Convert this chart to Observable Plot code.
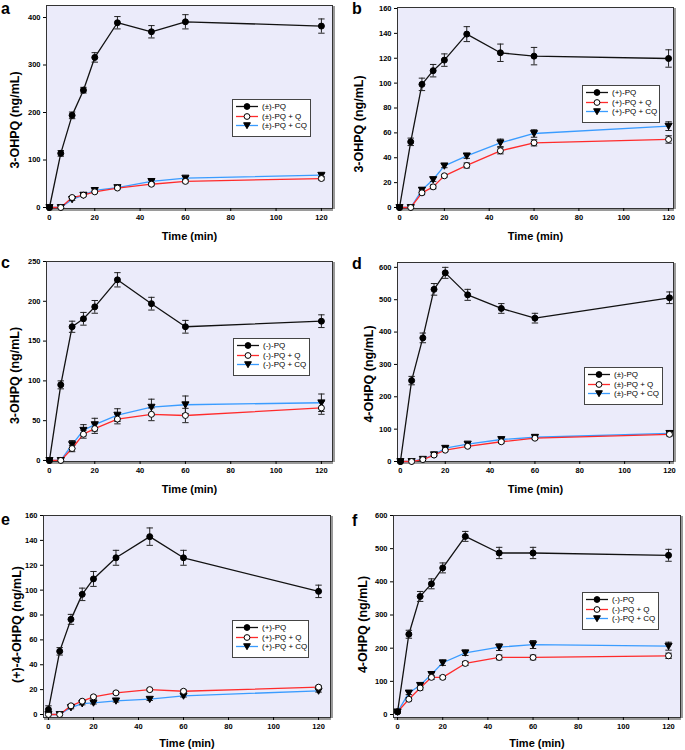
<!DOCTYPE html>
<html><head><meta charset="utf-8">
<script src="https://cdn.jsdelivr.net/npm/d3@7"></script>
<script src="https://cdn.jsdelivr.net/npm/@observablehq/plot@0.6"></script>
<style>
body{margin:0;background:#fff;font-family:"Liberation Sans",Arial,sans-serif;}
#fig{position:relative;width:685px;height:750px;overflow:hidden;background:#fff;}
.panel{position:absolute;}
.letter{position:absolute;font-weight:bold;font-size:16px;line-height:16px;color:#000;}
.legend{position:absolute;background:#fff;border:1px solid #444;box-sizing:border-box;padding:2px 0 0 3px;}
.legend .row{display:flex;align-items:center;height:9.6px;font-size:8px;color:#000;white-space:nowrap;}
.legend svg{margin-right:4px;}
</style></head>
<body><div id="fig"></div>
<script>
// ---------- data ----------
const times = [0, 5, 10, 15, 20, 30, 45, 60, 120];
const xTicks = [0, 20, 40, 60, 80, 100, 120];
const xLabel = "Time (min)";

// panel a : 3-OHPQ, (±)-PQ
const aNames = ["(±)-PQ", "(±)-PQ + Q", "(±)-PQ + CQ"];
const aPQ   = [0, 114, 194, 247, 316, 389, 370, 391, 382];
const aPQe  = [0, 6, 7, 6, 10, 13, 13, 15, 15];
const aQ    = [0, 0, 21, 26, 33, 41, 49, 55, 61];
const aQe   = [0, 0, 2, 2, 2, 2, 3, 3, 3];
const aCQ   = [0, 0, 17, 26, 36, 42, 55, 62, 68];
const aCQe  = [0, 0, 2, 2, 3, 2, 3, 3, 3];
const aYTicks = [0, 100, 200, 300, 400];

// panel b : 3-OHPQ, (+)-PQ
const bNames = ["(+)-PQ", "(+)-PQ + Q", "(+)-PQ + CQ"];
const bPQ   = [0, 52.8, 99, 110, 118.5, 139.4, 124.4, 121.7, 119.8];
const bPQe  = [0, 3, 5, 5, 5, 6, 7, 7, 7];
const bQ    = [0, 0, 11.8, 16.6, 25.5, 33.8, 45.6, 52, 54.7];
const bQe   = [0, 0, 1.5, 1.5, 1, 2, 2.5, 2.5, 3];
const bCQ   = [0, 0, 14, 22.5, 33.5, 41.5, 52, 59.5, 65.4];
const bCQe  = [0, 0, 2, 1.5, 1.5, 2, 3, 3, 3.5];
const bYTicks = [0, 20, 40, 60, 80, 100, 120, 140, 160];

// panel c : 3-OHPQ, (-)-PQ
const cNames = ["(-)-PQ", "(-)-PQ + Q", "(-)-PQ + CQ"];
const cPQ   = [0, 95, 168, 178, 193, 227, 197, 168, 175];
const cPQe  = [0, 5, 7, 8, 8, 9, 8, 8, 8];
const cQ    = [0, 0, 15, 33, 40, 52, 58, 56.5, 66];
const cQe   = [0, 0, 4, 5, 6, 6, 8, 9, 8];
const cCQ   = [0, 0, 20, 38, 45, 57, 67, 70, 72.5];
const cCQe  = [0, 0, 5, 7, 8, 8, 10, 11, 11];
const cYTicks = [0, 50, 100, 150, 200, 250];

// panel d : 4-OHPQ, (±)-PQ
const dNames = ["(±)-PQ", "(±)-PQ + Q", "(±)-PQ + CQ"];
const dPQ   = [0, 250, 382, 532, 583, 515, 473, 443, 506];
const dPQe  = [0, 13, 15, 18, 17, 17, 15, 15, 18];
const dQ    = [0, 0, 6, 20, 35, 47, 61, 72, 84];
const dQe   = [0, 0, 2, 3, 3, 3, 4, 4, 5];
const dCQ   = [0, 0, 7, 21, 41, 54, 68, 75, 87];
const dCQe  = [0, 0, 2, 3, 4, 4, 5, 5, 5];
const dYTicks = [0, 100, 200, 300, 400, 500, 600];

// panel e : (+)-4-OHPQ, (+)-PQ
const eNames = ["(+)-PQ", "(+)-PQ + Q", "(+)-PQ + CQ"];
const ePQ   = [4, 50.8, 76.5, 96.6, 109, 126, 143, 126, 99];
const ePQe  = [3, 3, 4, 5, 6, 6, 7, 6, 5];
const eQ    = [0, 0, 7, 10.7, 14.2, 17.4, 20, 18.7, 22];
const eQe   = [0, 0, 1, 1, 1, 1, 1, 1, 1];
const eCQ   = [0, 0, 5.6, 8.8, 9.4, 11, 12.3, 15, 19];
const eCQe  = [0, 0, 1, 1, 1, 1, 1, 1, 1];
const eYTicks = [0, 20, 40, 60, 80, 100, 120, 140, 160];

// panel f : 4-OHPQ, (-)-PQ
const fNames = ["(-)-PQ", "(-)-PQ + Q", "(-)-PQ + CQ"];
const fPQ   = [8, 242, 356, 394, 442, 537, 487, 487, 480];
const fPQe  = [3, 12, 15, 15, 15, 15, 17, 17, 18];
const fQ    = [8, 46, 80, 112, 112, 154, 172, 172, 177];
const fQe   = [2, 5, 6, 6, 5, 6, 7, 7, 8];
const fCQ   = [8, 65, 88, 121, 156, 186, 203, 211, 206];
const fCQe  = [2, 5, 6, 8, 8, 8, 10, 12, 12];
const fYTicks = [0, 100, 200, 300, 400, 500, 600];

const seriesColors = ["#111111", "#ff2b2b", "#3a9cff"];
const plotBg = "#ebebfa";

// ---------- layout (styles only) ----------
const panels = [
  {letter:"a", yLabel:"3-OHPQ (ng/mL)", names:aNames, vals:[aPQ,aQ,aCQ], errs:[aPQe,aQe,aCQe], yTicks:aYTicks,
   left:0, top:0, w:340, h:250, m:[5,8,42,46], xd:[-1.3,124.9], yd:[-2.1,425.3],
   letterPos:[1,1], legend:[232,99,79,38], ylDx:-32, ylDy:13, xlDy:28},
  {letter:"b", yLabel:"3-OHPQ (ng/mL)", names:bNames, vals:[bPQ,bQ,bCQ], errs:[bPQe,bQe,bCQe], yTicks:bYTicks,
   left:340, top:0, w:345, h:250, m:[7,12,42,57], xd:[-0.9,122.2], yd:[-0.8,160.8],
   letterPos:[352,1], legend:[582,85,78,38], ylDx:-39, ylDy:16, xlDy:28},
  {letter:"c", yLabel:"3-OHPQ (ng/mL)", names:cNames, vals:[cPQ,cQ,cCQ], errs:[cPQe,cQe,cCQe], yTicks:cYTicks,
   left:0, top:250, w:340, h:250, m:[11,8,39,46], xd:[-1.3,124.9], yd:[-1.3,250],
   letterPos:[1,255], legend:[233,338,77,38], ylDx:-32, ylDy:14, xlDy:28},
  {letter:"d", yLabel:"4-OHPQ (ng/mL)", names:dNames, vals:[dPQ,dQ,dCQ], errs:[dPQe,dQe,dCQe], yTicks:dYTicks,
   left:340, top:250, w:345, h:250, m:[12,12,39,57], xd:[-1.3,121.8], yd:[0,615],
   letterPos:[352,256], legend:[584,367,79,38], ylDx:-29, ylDy:12, xlDy:28},
  {letter:"e", yLabel:"(+)-4-OHPQ (ng/mL)", names:eNames, vals:[ePQ,eQ,eCQ], errs:[ePQe,eQe,eCQe], yTicks:eYTicks,
   left:0, top:500, w:340, h:250, m:[15,10,33,43], xd:[-2.2,125.3], yd:[-2.4,160],
   letterPos:[1,512], legend:[232,620,77,38], ylDx:-27, ylDy:8, xlDy:26},
  {letter:"f", yLabel:"4-OHPQ (ng/mL)", names:fNames, vals:[fPQ,fQ,fCQ], errs:[fPQe,fQe,fCQe], yTicks:fYTicks,
   left:340, top:500, w:345, h:250, m:[15,5,33,53], xd:[-1.8,125.3], yd:[-9,600],
   letterPos:[352,513], legend:[582,592,77,38], ylDx:-31, ylDy:8, xlDy:26}
];

// custom symbols
const capSymbol = {draw(ctx, size){ const w = Math.sqrt(size/Math.PI); ctx.moveTo(-w,0); ctx.lineTo(w,0); }};
const triDown = {draw(ctx, size){ const w = Math.sqrt(size/Math.PI); ctx.moveTo(-w*1.05,-w*0.85); ctx.lineTo(w*1.05,-w*0.85); ctx.lineTo(0,w*1.0); ctx.closePath(); }};
const symbols = [
  {symbol:"circle", fill:"#000", stroke:"#000"},
  {symbol:"circle", fill:"#fff", stroke:"#000"},
  {symbol:triDown, fill:"#000", stroke:"#000"}
];

const fig = document.getElementById("fig");

for (const p of panels) {
  const rows = [];
  p.names.forEach((s, si) => times.forEach((t, i) => rows.push({t, v:p.vals[si][i], e:p.errs[si][i], s, si})));
  const errRows = rows.filter(d => d.e > 0);

  const marks = [
    Plot.frame({fill: plotBg, stroke: "none"}),
    Plot.ruleY([p.yd[0]], {stroke:"#9a9a9a", strokeWidth:2, dy:1.5, dx:1}),
    Plot.ruleX([p.xd[1]], {stroke:"#9a9a9a", strokeWidth:2, dx:1.5, dy:1}),
    Plot.frame({stroke:"#333", strokeWidth:1}),
    Plot.axisX({ticks: xTicks, tickSize:3, tickPadding:3, label:null, fontSize:7.5, fontWeight:"bold"}),
    Plot.axisY({ticks: p.yTicks, tickSize:3, tickPadding:3, label:null, fontSize:7.5, fontWeight:"bold"}),
    // lines: blue and red under black
    ...[2,1,0].map(si => Plot.line(rows.filter(d => d.si === si), {x:"t", y:"v", stroke: seriesColors[si], strokeWidth:1.3})),
    // error bars
    Plot.ruleX(errRows, {x:"t", y1: d => d.v - d.e, y2: d => d.v + d.e, stroke:"#222", strokeWidth:1}),
    Plot.dot(errRows, {x:"t", y: d => d.v + d.e, symbol: capSymbol, r:3.2, stroke:"#222", strokeWidth:1}),
    Plot.dot(errRows, {x:"t", y: d => d.v - d.e, symbol: capSymbol, r:3.2, stroke:"#222", strokeWidth:1}),
    // markers
    ...[2,1,0].map(si => Plot.dot(rows.filter(d => d.si === si), {x:"t", y:"v", symbol: symbols[si].symbol, fill: symbols[si].fill, stroke: symbols[si].stroke, r: si === 2 ? 3.4 : 3, strokeWidth:1})),
    // axis titles
    Plot.text([p.yLabel], {text: d => d, frameAnchor:"left", textAnchor:"middle", lineAnchor:"middle", rotate:-90, dx:p.ylDx, dy:p.ylDy, fontSize:12.5, fontWeight:"bold", fill:"#000"}),
    Plot.text([xLabel], {text: d => d, frameAnchor:"bottom", textAnchor:"middle", lineAnchor:"middle", dy:p.xlDy, fontSize:11, fontWeight:"bold", fill:"#000"})
  ];

  const svg = Plot.plot({
    width: p.w, height: p.h,
    marginTop: p.m[0], marginRight: p.m[1], marginBottom: p.m[2], marginLeft: p.m[3],
    x: {domain: p.xd, axis: null},
    y: {domain: p.yd, axis: null},
    style: {fontFamily: "'Liberation Sans', Arial, sans-serif", background: "transparent", overflow: "visible", color:"#000"},
    marks
  });
  const wrap = document.createElement("div");
  wrap.className = "panel";
  wrap.style.left = p.left + "px"; wrap.style.top = p.top + "px";
  wrap.appendChild(svg);
  fig.appendChild(wrap);

  // panel letter
  const L = document.createElement("div");
  L.className = "letter"; L.textContent = p.letter;
  L.style.left = p.letterPos[0] + "px"; L.style.top = p.letterPos[1] + "px";
  fig.appendChild(L);

  // legend
  const lg = document.createElement("div");
  lg.className = "legend";
  lg.style.left = p.legend[0] + "px"; lg.style.top = p.legend[1] + "px";
  lg.style.width = p.legend[2] + "px"; lg.style.height = p.legend[3] + "px";
  p.names.forEach((name, si) => {
    const row = document.createElement("div"); row.className = "row";
    const ns = "http://www.w3.org/2000/svg";
    const s = document.createElementNS(ns, "svg");
    s.setAttribute("width", 22); s.setAttribute("height", 9);
    const ln = document.createElementNS(ns, "line");
    ln.setAttribute("x1", 0); ln.setAttribute("x2", 22); ln.setAttribute("y1", 4.5); ln.setAttribute("y2", 4.5);
    ln.setAttribute("stroke", seriesColors[si]); ln.setAttribute("stroke-width", 1.3);
    s.appendChild(ln);
    const mk = document.createElementNS(ns, "path");
    const sym = symbols[si].symbol === "circle" ? d3.symbolCircle : symbols[si].symbol;
    const r = si === 2 ? 3.2 : 2.9;
    mk.setAttribute("d", d3.symbol(sym, Math.PI * r * r)());
    mk.setAttribute("transform", "translate(11,4.5)");
    mk.setAttribute("fill", symbols[si].fill); mk.setAttribute("stroke", symbols[si].stroke);
    s.appendChild(mk);
    row.appendChild(s);
    const tx = document.createElement("span"); tx.textContent = name;
    row.appendChild(tx);
    lg.appendChild(row);
  });
  fig.appendChild(lg);
}
</script>
</body></html>
